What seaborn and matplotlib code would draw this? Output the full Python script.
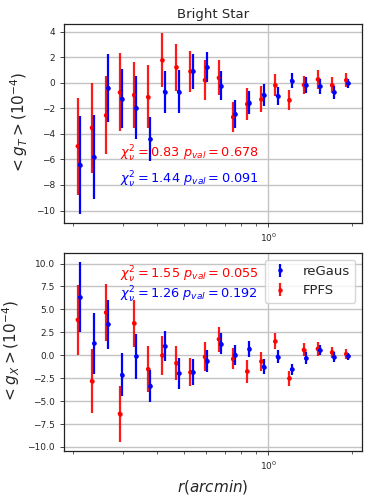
import numpy as np
import matplotlib
matplotlib.use("Agg")
import matplotlib.pyplot as plt
import seaborn as sns

sns.set_style("ticks", {"axes.grid": True, "grid.color": "#c4c4c4",
                        "axes.edgecolor": "#222222", "xtick.direction": "out",
                        "ytick.direction": "out"})
plt.rcParams['font.family'] = ['DejaVu Sans']

# radial bins (arcmin)
r = [0.209, 0.235, 0.264, 0.296, 0.333, 0.374, 0.421, 0.473, 0.531, 0.597,
     0.670, 0.754, 0.847, 0.953, 1.069, 1.202, 1.352, 1.517, 1.706, 1.919]

# tangential shear (1e-4)
gt_fpfs = [-4.96, -3.51, -2.54, -0.75, -0.94, -1.10, 1.79, 1.22, 0.90, 0.22,
           0.40, -2.67, -1.65, -1.28, -0.18, -1.33, -0.15, 0.27, -0.18, 0.22]
gt_regaus = [-6.40, -5.80, -0.39, -1.23, -1.96, -4.40, -0.70, -0.68, 0.90, 1.22,
             -0.23, -2.43, -1.54, -0.94, -1.02, 0.17, -0.15, -0.28, -0.75, -0.04]
# cross shear (1e-4)
gx_fpfs = [3.87, -2.81, 4.66, -6.37, 3.50, -1.50, -0.02, -0.82, -1.83, -0.16,
           1.76, -0.38, -1.76, -0.67, 1.51, -2.52, 0.60, 0.71, 0.31, 0.16]
gx_regaus = [6.33, 1.29, 3.39, -2.12, -0.13, -3.32, 1.00, -1.98, -1.83, -0.60,
             1.25, 0.05, 0.71, -1.25, -0.16, -1.54, -0.34, 0.56, -0.20, -0.09]
# errors
err_fpfs = [3.80, 3.53, 3.06, 3.06, 2.56, 2.47, 2.12, 1.83, 1.58, 1.56,
            1.36, 1.17, 1.23, 1.01, 0.86, 0.80, 0.69, 0.74, 0.63, 0.55]
err_regaus = [3.84, 3.30, 2.68, 2.33, 2.47, 1.76, 1.64, 1.72, 1.38, 1.19,
              1.13, 1.09, 0.89, 0.84, 0.73, 0.61, 0.64, 0.57, 0.52, 0.38]

shift_fpfs = 0.99
shift_regaus = 1.01

fig = plt.figure(figsize=(3.74, 4.98), dpi=100)
ax1 = fig.add_axes([0.171, 0.553, 0.797, 0.399])
ax2 = fig.add_axes([0.171, 0.095, 0.797, 0.397])

r_arr = np.array(r)

def draw(ax, y_reg, y_fp):
    ax.errorbar(r_arr * shift_regaus, y_reg, yerr=err_regaus, fmt='.', color='blue',
                ms=4.5, elinewidth=1.6, label='reGaus', zorder=3)
    ax.errorbar(r_arr * shift_fpfs, y_fp, yerr=err_fpfs, fmt='.', color='red',
                ms=4.5, elinewidth=1.6, alpha=0.9, label='FPFS', zorder=2)
    sns.scatterplot(x=r_arr * shift_regaus, y=y_reg, color='blue', s=8,
                    edgecolor='none', ax=ax, zorder=4, legend=False)
    sns.scatterplot(x=r_arr * shift_fpfs, y=y_fp, color='red', s=8,
                    edgecolor='none', ax=ax, zorder=3, legend=False)
    if ax.get_legend() is not None:
        ax.get_legend().remove()
    ax.set_xscale('log')
    ax.grid(True, which='major', color='#c4c4c4', lw=1.0)
    ax.tick_params(labelsize=6.5, width=0.6, length=3)
    ax.tick_params(which='minor', width=0.5, length=2)
    for s in ax.spines.values():
        s.set_linewidth(0.9)

draw(ax1, gt_regaus, gt_fpfs)
draw(ax2, gx_regaus, gx_fpfs)

ax1.set_title('Bright Star', fontsize=9.5, pad=4)
ax1.set_ylabel(r'$<g_T>(10^{-4})$', fontsize=11)
ax1.set_yticks([-10, -8, -6, -4, -2, 0, 2, 4])
ax1.text(0.295, -5.6, r'$\chi^2_\nu=0.83\ p_{val}=0.678$', color='red', fontsize=9.3, va='center')
ax1.text(0.295, -7.6, r'$\chi^2_\nu=1.44\ p_{val}=0.091$', color='blue', fontsize=9.3, va='center')

ax2.set_ylabel(r'$<g_X>(10^{-4})$', fontsize=11)
ax2.set_xlabel(r'$r(arcmin)$', fontsize=11)
ax2.set_yticks([-10, -7.5, -5, -2.5, 0, 2.5, 5, 7.5, 10])
ax2.set_yticklabels(['−10.0', '−7.5', '−5.0', '−2.5', '0.0', '2.5', '5.0', '7.5', '10.0'])
ax2.text(0.295, 8.75, r'$\chi^2_\nu=1.55\ p_{val}=0.055$', color='red', fontsize=9.3, va='center')
ax2.text(0.295, 6.6, r'$\chi^2_\nu=1.26\ p_{val}=0.192$', color='blue', fontsize=9.3, va='center')
ax2.legend(loc='upper right', fontsize=9.5, framealpha=0.8, borderaxespad=0.5,
           handlelength=1.5, handletextpad=1.0)

fig.savefig('out.png', dpi=100)
